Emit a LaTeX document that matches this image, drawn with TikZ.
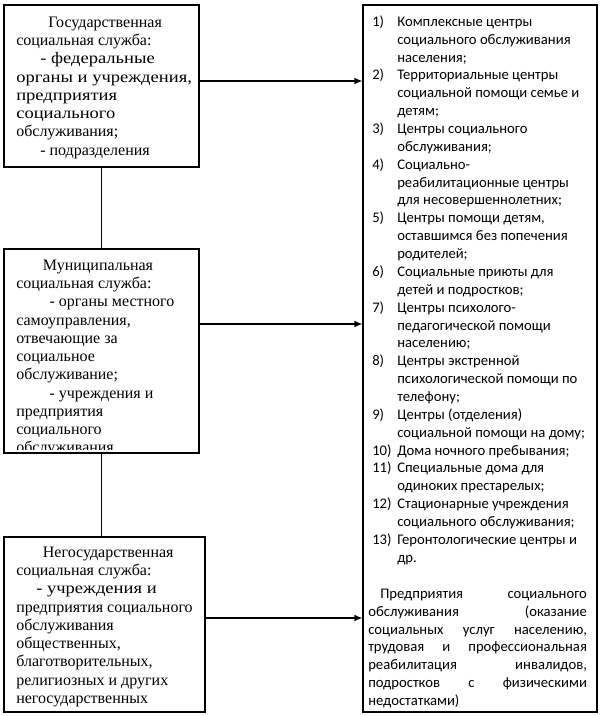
\documentclass[tikz,border=0pt]{standalone}
\usepackage{fontspec}
\setmainfont{Liberation Serif}
\newfontfamily\listfont{Carlito}
\newfontfamily\wideserif{Liberation Serif}[FakeStretch=1.16]
\usetikzlibrary{positioning,arrows.meta,fit}

% numbered entries of the right-hand list
\newcommand\numitem[2]{\makebox[18.75pt][l]{#1}#2}
\newcommand\contline[1]{\hspace*{18.75pt}#1}
\newcommand\jline[1]{\hbox to 164pt{#1}}

\begin{document}
\begin{tikzpicture}[
    x=0.75pt, y=-0.75pt,
    box/.style={draw, line width=0.8pt, inner sep=0pt},
    ltxt/.style={anchor=north west, align=left, inner sep=0pt,
      font=\fontsize{12}{13.7}\selectfont},
    rtxt/.style={anchor=north west, align=left, inner sep=0pt,
      font=\listfont\fontsize{11}{13.4}\selectfont},
    arr/.style={-{Latex[length=6pt,width=5pt]}, line width=0.9pt}
  ]
  \useasboundingbox (0,0) rectangle (607,716);

  % frames
  \node[box, fit={(4,5)(199,167)}] (gos) {};
  \node[box, fit={(4,249)(199,453)}] (mun) {};
  \node[box, fit={(4,537)(205,712)}] (neg) {};
  \node[box, fit={(363,5)(597,712)}] (inst) {};

  % left texts
  \node[ltxt] (gostxt) at (16,14.2) {\strut\hspace*{24pt}Государственная\\
    социальная служба:\\
    \hspace*{18pt}{\wideserif - федеральные}\\
    {\wideserif органы и учреждения,}\\
    {\wideserif предприятия}\\
    {\wideserif социального}\\
    обслуживания;\\
    \hspace*{18pt}- подразделения};

  \begin{scope}
    \clip (4,249) rectangle (199,449);
    \node[ltxt] (muntxt) at (16,257.2) {\strut\hspace*{20pt}Муниципальная\\
      социальная служба:\\
      \hspace*{25pt}- органы местного\\
      самоуправления,\\
      отвечающие за\\
      социальное\\
      обслуживание;\\
      \hspace*{25pt}- учреждения и\\
      предприятия\\
      социального\\
      обслуживания};
  \end{scope}

  \node[ltxt] (negtxt) at (16,544.2) {\strut\hspace*{20pt}Негосударственная\\
    социальная служба:\\
    \hspace*{15pt}{\wideserif - учреждения и}\\
    предприятия социального\\
    обслуживания\\
    общественных,\\
    благотворительных,\\
    религиозных и других\\
    негосударственных};

  % right list
  \node[rtxt] (insttxt) at (372,13.5) {\strut\numitem{1)}{Комплексные центры}\\
    \contline{социального обслуживания}\\
    \contline{населения;}\\
    \numitem{2)}{Территориальные центры}\\
    \contline{социальной помощи семье и}\\
    \contline{детям;}\\
    \numitem{3)}{Центры социального}\\
    \contline{обслуживания;}\\
    \numitem{4)}{Социально-}\\
    \contline{реабилитационные центры}\\
    \contline{для несовершеннолетних;}\\
    \numitem{5)}{Центры помощи детям,}\\
    \contline{оставшимся без попечения}\\
    \contline{родителей;}\\
    \numitem{6)}{Социальные приюты для}\\
    \contline{детей и подростков;}\\
    \numitem{7)}{Центры психолого-}\\
    \contline{педагогической помощи}\\
    \contline{населению;}\\
    \numitem{8)}{Центры экстренной}\\
    \contline{психологической помощи по}\\
    \contline{телефону;}\\
    \numitem{9)}{Центры (отделения)}\\
    \contline{социальной помощи на дому;}\\
    \numitem{10)}{Дома ночного пребывания;}\\
    \numitem{11)}{Специальные дома для}\\
    \contline{одиноких престарелых;}\\
    \numitem{12)}{Стационарные учреждения}\\
    \contline{социального обслуживания;}\\
    \numitem{13)}{Геронтологические центры и}\\
    \contline{др.}};

  \node[rtxt] (predtxt) at (368,585.5) {\strut\jline{\hspace*{9pt}Предприятия\hfill социального}\\
    \jline{обслуживания\hfill (оказание}\\
    \jline{социальных\hfill услуг\hfill населению,}\\
    \jline{трудовая\hfill и\hfill профессиональная}\\
    \jline{реабилитация\hfill инвалидов,}\\
    \jline{подростков\hfill с\hfill физическими}\\
    недостатками)};

  % connectors
  \draw[line width=0.8pt] (gos.south) -- (mun.north);
  \draw[line width=0.8pt] (mun.south) -- (mun.south |- neg.north);
  \draw[arr] (gos.east |- 0,81) -- (inst.west |- 0,81);
  \draw[arr] (mun.east |- 0,324) -- (inst.west |- 0,324);
  \draw[arr] (neg.east |- 0,618) -- (inst.west |- 0,618);
\end{tikzpicture}
\end{document}
